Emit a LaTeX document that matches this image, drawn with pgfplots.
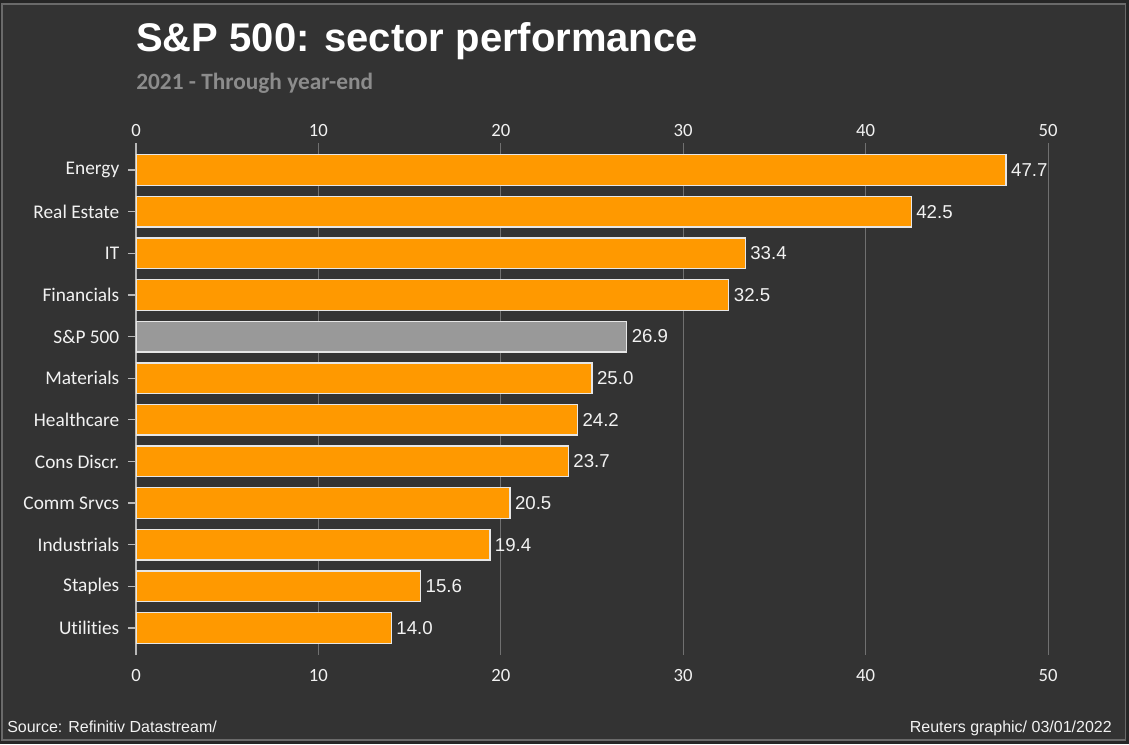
\documentclass[border=0pt]{standalone}
\usepackage{pgfplots}
\pgfplotsset{compat=1.18}
\usepackage{fontspec}
\setmainfont[Ligatures=NoCommon]{Liberation Sans}
\newfontfamily\carlito[Ligatures=NoCommon]{Carlito}

\definecolor{bg}{HTML}{333333}
\definecolor{frame}{HTML}{6A6A6A}
\definecolor{barorange}{HTML}{FF9900}
\definecolor{bargrey}{HTML}{999999}
\definecolor{barline}{HTML}{E6E6E6}
\definecolor{gridc}{HTML}{707070}
\definecolor{zeroline}{HTML}{B8B8B8}
\definecolor{txt}{HTML}{F2F2F2}
\definecolor{subt}{HTML}{8C8C8C}

\begin{document}
\begin{tikzpicture}
% background and frame (1px = 0.75pt, page 1129 x 744 px)
\fill[black!85] (0,0) rectangle (846.75pt,558pt);
\filldraw[fill=bg, draw=frame, line width=1.2pt] (1.5pt,3pt) rectangle (844pt,555pt);

\node[anchor=base west, text=white, font=\fontsize{30}{34}\selectfont\bfseries, inner sep=0pt]
  at (102pt,519pt) {S\&P 500: sector performance};
\node[anchor=base west, text=subt, font=\carlito\fontsize{17.5}{20}\selectfont\bfseries, inner sep=0pt]
  at (102pt,490.5pt) {2021 - Through year-end};

\begin{axis}[
  at={(102pt,66.75pt)}, anchor=south west,
  width=684pt, height=384pt, scale only axis,
  xbar, bar width=23pt, bar shift=0pt,
  xmin=0, xmax=50, ymin=-0.65, ymax=11.65,
  axis lines*=left,
  axis line style={-},
  x axis line style={draw=none},
  y axis line style={draw=zeroline, line width=0.8pt},
  xtick={0,10,...,50},
  xmajorgrids, major grid style={draw=gridc, line width=0.75pt},
  ytick={0,...,11},
  yticklabels={Utilities,Staples,Industrials,Comm Srvcs,Cons Discr.,Healthcare,Materials,S\&P 500,Financials,IT,Real Estate,Energy},
  x tick style={draw=none},
  y tick style={draw=zeroline, line width=1pt},
  tick align=outside, major tick length=6pt,
  xticklabel style={font=\carlito\fontsize{14}{16}\selectfont, text=txt, yshift=-1pt},
  yticklabel style={font=\carlito\fontsize{14.5}{16}\selectfont, text=txt, xshift=-3pt},
  /pgf/number format/assume math mode=true,
  nodes near coords,
  nodes near coords style={font=\fontsize{14}{16}\selectfont, text=txt,
    /pgf/number format/.cd, fixed, fixed zerofill, precision=1},
  every axis plot/.append style={draw=barline, line width=1pt},
]
\addplot[fill=barorange] coordinates {
(14.0,0) (15.6,1) (19.4,2) (20.5,3) (23.7,4) (24.2,5) (25.0,6)
(32.5,8) (33.4,9) (42.5,10) (47.7,11)
};
\addplot[fill=bargrey] coordinates {
(26.9,7)
};
\end{axis}

% top tick labels
\begin{axis}[
  at={(102pt,66.75pt)}, anchor=south west,
  width=684pt, height=384pt, scale only axis,
  xmin=0, xmax=50, ymin=0, ymax=1,
  hide y axis,
  axis x line*=top,
  axis line style={draw=none},
  xtick={0,10,...,50},
  x tick style={draw=none},
  xticklabel style={font=\carlito\fontsize{14}{16}\selectfont, text=txt, yshift=1pt},
  /pgf/number format/assume math mode=true,
]
\end{axis}

\node[anchor=base west, text=txt, font=\fontsize{12}{14}\selectfont, inner sep=0pt]
  at (5.25pt,9pt) {Source: Refinitiv Datastream/};
\node[anchor=base east, text=txt, font=\fontsize{12}{14}\selectfont, inner sep=0pt]
  at (834pt,9pt) {Reuters graphic/ 03/01/2022};

\pgfresetboundingbox
\path (0,0) rectangle (846.75pt,558pt);
\end{tikzpicture}
\end{document}
